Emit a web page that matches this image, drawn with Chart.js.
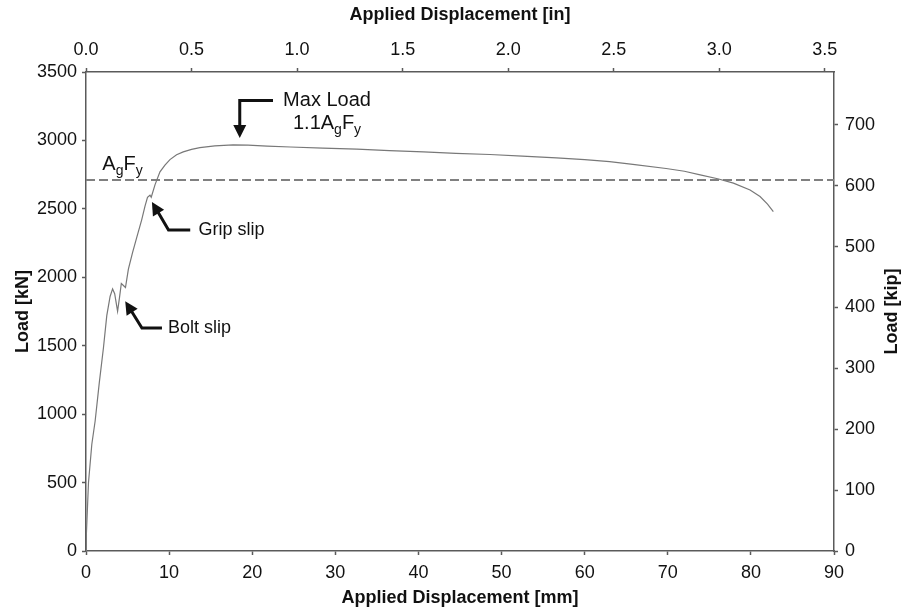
<!DOCTYPE html>
<html>
<head>
<meta charset="utf-8">
<script src="https://cdn.jsdelivr.net/npm/chart.js@4.4.1/dist/chart.umd.min.js"></script>
<style>
  html, body { margin: 0; padding: 0; background: #fff; }
  canvas { display: block; }
</style>
</head>
<body>
<canvas id="load-chart" width="907" height="613"></canvas>
<script>
// Load vs applied displacement
const dispMm = [0, 0.05, 0.3, 0.7, 1.1, 1.6, 2.1, 2.5, 2.9, 3.2, 3.45, 3.8, 4.05, 4.25, 4.5, 4.75,
  5.1, 5.6, 6.1, 6.7, 7.1, 7.4, 7.7, 7.85, 8.3, 8.9, 9.5, 10.1, 10.9, 11.7, 12.7, 13.7, 15.5,
  17.7, 19.5, 21.8, 24.6, 28.5, 32.6, 36.5, 40.6, 44.5, 48.6, 52.5, 56.6, 60, 63, 65.8, 69.8,
  72, 73.9, 76, 77.9, 79.9, 81.1, 82.0, 82.7];
const loadKN = [0, 130, 500, 780, 950, 1230, 1485, 1720, 1860, 1915, 1880, 1752, 1860, 1955, 1940, 1925,
  2060, 2180, 2290, 2420, 2520, 2585, 2600, 2585, 2675, 2770, 2820, 2860, 2895, 2916, 2935, 2948, 2960,
  2968, 2966, 2958, 2952, 2944, 2936, 2926, 2916, 2906, 2897, 2886, 2873, 2860, 2845, 2825, 2795,
  2775, 2748, 2720, 2688, 2638, 2590, 2535, 2480];
const yieldLoadKN = 2710;

const mmTicks = [0, 10, 20, 30, 40, 50, 60, 70, 80, 90];
const inTicks = [0, 0.5, 1.0, 1.5, 2.0, 2.5, 3.0, 3.5];
const kNTicks = [0, 500, 1000, 1500, 2000, 2500, 3000, 3500];
const kipTicks = [0, 100, 200, 300, 400, 500, 600, 700];

const MM_PER_IN = 25.4;
const KN_PER_KIP = 4.44822;

const FONT = "'Liberation Sans', Arial, Helvetica, sans-serif";
const AXIS_COLOR = '#5a5a5a';
const TEXT_COLOR = '#111';

// annotation text + arrows, placed in data units (mm, kN)
const labels = [
  { parts: [['Max Load', 0]], x: 29.0, y: 3255, align: 'center', base: 'alphabetic' },
  { parts: [['1.1A', 0], ['g', 1], ['F', 0], ['y', 1]], x: 29.0, y: 3085, align: 'center', base: 'alphabetic' },
  { parts: [['A', 0], ['g', 1], ['F', 0], ['y', 1]], x: 1.96, y: 2785, align: 'left', base: 'alphabetic' },
  { parts: [['Grip slip', 0]], x: 13.54, y: 2346, align: 'left', base: 'middle', size: 18 },
  { parts: [['Bolt slip', 0]], x: 9.86, y: 1630, align: 'left', base: 'middle', size: 18 }
];
const arrows = [
  [[22.5, 3292], [18.5, 3292], [18.5, 3017]],
  [[12.54, 2346], [9.93, 2346], [7.93, 2551]],
  [[9.14, 1630], [6.73, 1630], [4.72, 1825]]
];

function drawParts(ctx, item, px, py) {
  const size = item.size || 20;
  const subSize = Math.round(size * 0.7);
  const fontOf = (sub) => `${sub ? subSize : size}px ${FONT}`;
  let total = 0;
  item.parts.forEach(([t, sub]) => { ctx.font = fontOf(sub); total += ctx.measureText(t).width; });
  let x = item.align === 'center' ? px - total / 2 : px;
  ctx.textAlign = 'left';
  ctx.textBaseline = item.base;
  item.parts.forEach(([t, sub]) => {
    ctx.font = fontOf(sub);
    ctx.fillText(t, x, py + (sub ? 5 : 0));
    x += ctx.measureText(t).width;
  });
}

function drawArrow(ctx, pts) {
  const n = pts.length;
  const [tx, ty] = pts[n - 1];
  const [sx, sy] = pts[n - 2];
  const ang = Math.atan2(ty - sy, tx - sx);
  const headLen = 13, headHalf = 6.5;
  ctx.lineWidth = 3;
  ctx.beginPath();
  ctx.moveTo(pts[0][0], pts[0][1]);
  for (let i = 1; i < n - 1; i++) ctx.lineTo(pts[i][0], pts[i][1]);
  ctx.lineTo(tx - Math.cos(ang) * (headLen - 2), ty - Math.sin(ang) * (headLen - 2));
  ctx.stroke();
  ctx.beginPath();
  ctx.moveTo(tx, ty);
  ctx.lineTo(tx - Math.cos(ang) * headLen + Math.sin(ang) * headHalf, ty - Math.sin(ang) * headLen - Math.cos(ang) * headHalf);
  ctx.lineTo(tx - Math.cos(ang) * headLen - Math.sin(ang) * headHalf, ty - Math.sin(ang) * headLen + Math.cos(ang) * headHalf);
  ctx.closePath();
  ctx.fill();
}

const notesPlugin = {
  id: 'notes',
  afterDraw(chart) {
    const { ctx } = chart;
    const xs = chart.scales.x, ys = chart.scales.y;
    ctx.save();
    ctx.fillStyle = TEXT_COLOR;
    ctx.strokeStyle = TEXT_COLOR;
    labels.forEach(l => drawParts(ctx, l, xs.getPixelForValue(l.x), ys.getPixelForValue(l.y)));
    arrows.forEach(a => drawArrow(ctx, a.map(([x, y]) => [xs.getPixelForValue(x), ys.getPixelForValue(y)])));

    // right axis title reads bottom-to-top like the left one
    const r = chart.scales.y2;
    ctx.translate(r.right - 15, (r.top + r.bottom) / 2);
    ctx.rotate(-Math.PI / 2);
    ctx.font = `bold 18px ${FONT}`;
    ctx.textAlign = 'center';
    ctx.textBaseline = 'middle';
    ctx.fillText('Load [kip]', 0, 0);
    ctx.restore();
  }
};

function axisBase(tickList, fmt, pad) {
  return {
    type: 'linear',
    border: { display: true, color: AXIS_COLOR, width: 1.5 },
    grid: { display: true, drawOnChartArea: false, drawTicks: true, tickLength: 4, tickColor: AXIS_COLOR, tickWidth: 1.5 },
    ticks: { color: TEXT_COLOR, font: { family: FONT, size: 18 }, padding: pad, callback: fmt, maxRotation: 0 },
    afterBuildTicks: (s) => { s.ticks = tickList.map(v => ({ value: v })); }
  };
}

const titleFont = { family: FONT, size: 18, weight: 'bold' };

const ctx = document.getElementById('load-chart').getContext('2d');
new Chart(ctx, {
  type: 'scatter',
  data: {
    datasets: [
      {
        label: 'Load',
        data: dispMm.map((x, i) => ({ x: x, y: loadKN[i] })),
        showLine: true,
        borderColor: '#787878',
        borderWidth: 1.2,
        pointRadius: 0,
        tension: 0,
        xAxisID: 'x',
        yAxisID: 'y'
      },
      {
        label: 'AgFy',
        data: [{ x: 0, y: yieldLoadKN }, { x: 90, y: yieldLoadKN }],
        showLine: true,
        borderColor: '#808080',
        borderWidth: 2,
        borderDash: [9, 4],
        pointRadius: 0,
        xAxisID: 'x',
        yAxisID: 'y'
      }
    ]
  },
  options: {
    responsive: false,
    animation: false,
    devicePixelRatio: 1,
    layout: { padding: 0 },
    plugins: { legend: { display: false }, tooltip: { enabled: false } },
    scales: {
      x: Object.assign(axisBase(mmTicks, v => String(v), 7), {
        position: 'bottom', min: 0, max: 90,
        title: { display: true, text: 'Applied Displacement [mm]', color: TEXT_COLOR, font: titleFont, padding: { top: 0, bottom: 4 } },
        afterFit: (s) => { s.height = 62; }
      }),
      x2: Object.assign(axisBase(inTicks, v => v.toFixed(1), 7), {
        axis: 'x', position: 'top', min: 0, max: 90 / MM_PER_IN,
        title: { display: true, text: 'Applied Displacement [in]', color: TEXT_COLOR, font: titleFont, padding: { top: 4, bottom: 0 } },
        afterFit: (s) => { s.height = 72; }
      }),
      y: Object.assign(axisBase(kNTicks, v => String(v), 5), {
        position: 'left', min: 0, max: 3500,
        title: { display: true, text: 'Load [kN]', color: TEXT_COLOR, font: titleFont, padding: { top: 12, bottom: 0 } },
        afterFit: (s) => { s.width = 86; }
      }),
      y2: Object.assign(axisBase(kipTicks, v => String(v), 7), {
        axis: 'y', position: 'right', min: 0, max: 3500 / KN_PER_KIP,
        afterFit: (s) => { s.width = 73; }
      })
    }
  },
  plugins: [notesPlugin]
});
</script>
</body>
</html>
